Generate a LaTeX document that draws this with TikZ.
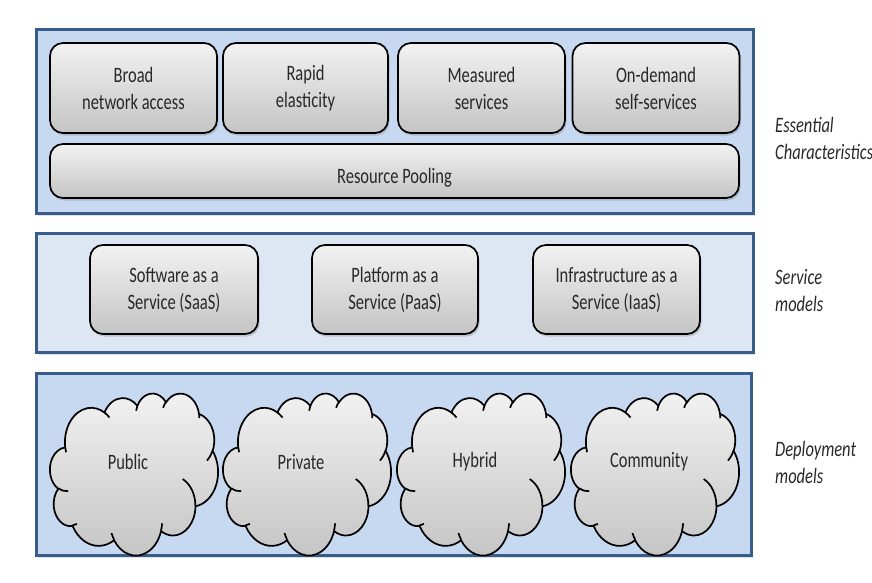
\documentclass[tikz,border=0pt]{standalone}
\usepackage{fontspec}
\setmainfont{Carlito}[FakeStretch=0.75]
\usetikzlibrary{shadows}
\definecolor{panelA}{RGB}{198,217,241}
\definecolor{panelB}{RGB}{221,231,243}
\definecolor{panelLine}{RGB}{56,93,138}
\definecolor{txt}{RGB}{40,40,40}
\definecolor{boxTop}{RGB}{242,242,242}
\definecolor{boxBot}{RGB}{196,196,196}
\tikzset{
  panel/.style={draw=panelLine, line width=3pt, inner sep=0pt,
    drop shadow={opacity=0.25, shadow xshift=1pt, shadow yshift=-2pt}},
  featbox/.style={draw=black, line width=1.7pt, rounded corners=13pt,
    top color=boxTop, bottom color=boxBot, align=center, inner sep=0pt,
    text=txt, font=\fontsize{22}{27}\selectfont,
    drop shadow={opacity=0.35, shadow xshift=1.5pt, shadow yshift=-2.5pt}},
  cloudbody/.style={draw=black, line width=1.7pt, top color=boxTop, bottom color=boxBot},
  cloudcurl/.style={draw=black, line width=1.7pt},
  cloudtext/.style={inner sep=0pt, text=txt, font=\fontsize{22}{27}\selectfont},
  sidelabel/.style={anchor=west, align=left, inner sep=0pt, text=txt,
    font=\fontsize{22}{27}\selectfont\itshape},
}
\begin{document}
\begin{tikzpicture}[x=1pt, y=-1pt]
\useasboundingbox (0,0) rectangle (872,582);
% panels
\node[panel, fill=panelA, minimum width=717pt, minimum height=184pt] (p1) at (395,121.5) {};
\node[panel, fill=panelB, minimum width=717pt, minimum height=119pt] (p2) at (395,293) {};
\node[panel, fill=panelA, minimum width=715pt, minimum height=182pt] (p3) at (394,464.5) {};
% essential characteristics
\node[featbox, minimum width=167pt, minimum height=90pt] (broad) at (133.5,88) {Broad\\network access};
\node[featbox, minimum width=165pt, minimum height=90pt] (rapid) at (305.5,88) {Rapid\\elasticity};
\node[featbox, minimum width=167pt, minimum height=90pt] (measured) at (481.5,88) {Measured\\services};
\node[featbox, minimum width=167pt, minimum height=90pt] (ondemand) at (656,88) {On-demand\\self-services};
\node[featbox, minimum width=689pt, minimum height=54pt] (pooling) at (394.5,171) {\raisebox{-12pt}[0pt][0pt]{Resource Pooling}};
% service models
\node[featbox, minimum width=168pt, minimum height=89pt] (saas) at (174,289.5) {Software as a\\Service (SaaS)};
\node[featbox, minimum width=166pt, minimum height=89pt] (paas) at (395,289.5) {Platform as a\\Service (PaaS)};
\node[featbox, minimum width=167pt, minimum height=89pt] (iaas) at (616.5,289.5) {Infrastructure as a\\Service (IaaS)};
% deployment models (clouds)
\foreach \cx/\cy/\nm/\lbl in {50/393/public/Public, 223/393/private/Private, 397/393/hybrid/Hybrid, 571/393/community/Community}{
  \begin{scope}[shift={(\cx,\cy)}, xscale=168/432, yscale=162/432]
    \path[cloudbody] (39,143.7)
      arc[x radius=67.53, y radius=91.90, start angle=172.255, delta angle=128.115]
      arc[x radius=53.33, y radius=72.67, start angle=-152.03, delta angle=106.57]
      arc[x radius=43.65, y radius=59.45, start angle=-153.49, delta angle=116.17]
      arc[x radius=48.57, y radius=65.95, start angle=-139.71, delta angle=129.5]
      arc[x radius=53.33, y radius=72.73, start angle=-74.77, delta angle=97.98]
      arc[x radius=67.75, y radius=92.20, start angle=-37.53, delta angle=119.39]
      arc[x radius=57.85, y radius=78.67, start angle=0.46, delta angle=121.51]
      arc[x radius=67.52, y radius=92.15, start angle=16.85, delta angle=129.39]
      arc[x radius=77.20, y radius=105.43, start angle=58.98, delta angle=91.19]
      arc[x radius=43.60, y radius=59.18, start angle=83.31, delta angle=139.79]
      arc[x radius=43.45, y radius=59.45, start angle=120.35, delta angle=143.76]
      -- cycle;
    \path[cloudcurl]
      (46.93,261.77) arc[x radius=43.45, y radius=59.45, start angle=85.55, delta angle=34.80]
      (69.28,348.99) arc[x radius=43.60, y radius=59.18, start angle=68.23, delta angle=15.08]
      (164.78,390.90) arc[x radius=67.52, y radius=92.15, start angle=146.24, delta angle=12.24]
      (288.27,347.51) arc[x radius=67.52, y radius=92.15, start angle=4.74, delta angle=12.11]
      (341.29,229.54) arc[x radius=57.85, y radius=78.67, start angle=-64.03, delta angle=64.49]
      (417.98,153.54) arc[x radius=53.33, y radius=72.73, start angle=23.21, delta angle=26.43]
      (383.24,54.26) arc[x radius=48.57, y radius=65.95, start angle=-10.21, delta angle=11.03]
      (290.78,39.52) arc[x radius=48.57, y radius=65.95, start angle=-156.29, delta angle=16.58]
      (221.41,47.20) arc[x radius=43.65, y radius=59.45, start angle=-167.73, delta angle=14.24]
      (140.00,51.92) arc[x radius=67.53, y radius=91.90, start angle=-59.63, delta angle=13.89]
      (41.27,157.89) arc[x radius=67.53, y radius=91.90, start angle=163.20, delta angle=9.05];
  \end{scope}
  \node[cloudtext] (\nm) at (\cx+78,\cy+69) {\lbl};
}
% side labels
\node[sidelabel] (lblEss) at (775,138) {Essential\\Characteristics};
\node[sidelabel] (lblSvc) at (775,291) {Service\\models};
\node[sidelabel] (lblDep) at (775,462) {Deployment\\models};
\end{tikzpicture}
\end{document}
